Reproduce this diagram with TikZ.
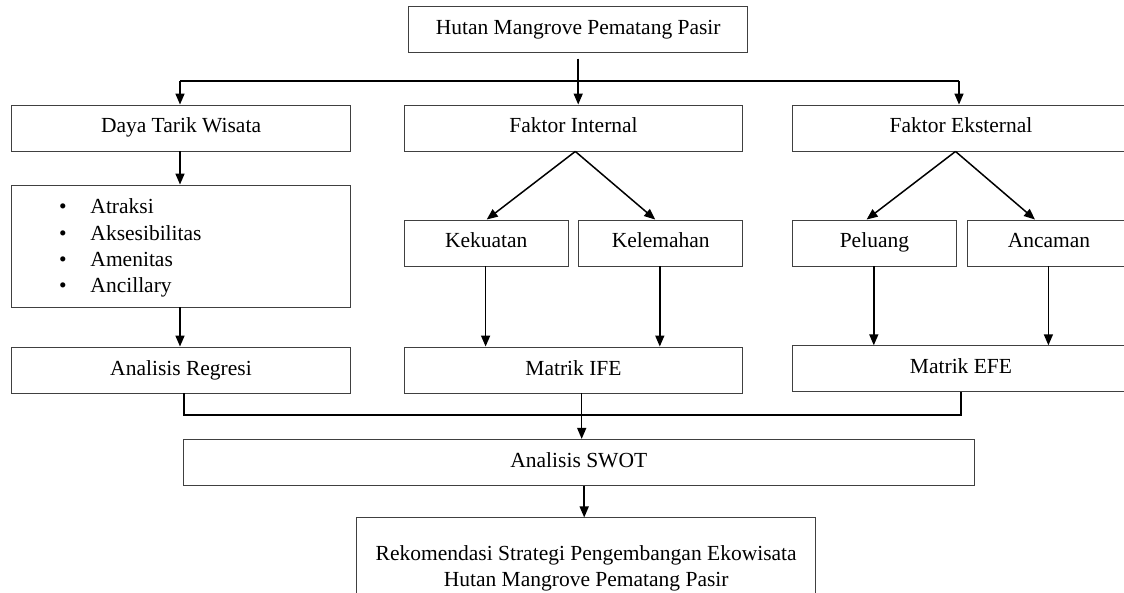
\documentclass[tikz,border=0pt]{standalone}
\usepackage{fontspec}
\setmainfont{Liberation Serif}
\usetikzlibrary{arrows.meta}
\newcommand\dfont{\fontsize{21.5}{26.3}\selectfont}
\tikzset{
  box/.style={draw=black!75, line width=0.9pt, minimum height=46pt, inner sep=0pt,
    text height=14.7pt, text depth=4.7pt, font=\dfont},
  rekbox/.style={draw=black!75, line width=0.9pt, inner sep=0pt, align=center, font=\dfont},
  itm/.style={inner sep=0pt, font=\dfont, anchor=base west},
  arr/.style={line width=1.5pt, -{Triangle[length=11pt,width=9pt]}},
  con/.style={line width=2pt},
}
\begin{document}
\begin{tikzpicture}[x=1pt,y=-1pt]
\useasboundingbox (0,0) rectangle (1124,593);
\clip (0,0) rectangle (1124,593);
% boxes
\node[box, minimum width=339.1pt] (top) at (578.2,29.7) {Hutan Mangrove Pematang Pasir};
\node[box, minimum width=338.4pt] (dtw) at (181,128) {Daya Tarik Wisata};
\node[box, minimum width=338.3pt] (fi) at (573.5,128) {Faktor Internal};
\node[box, minimum width=337pt] (fe) at (961,128) {Faktor Eksternal};
\node[box, minimum width=338.4pt, minimum height=122pt] (bul) at (181,246) {};
\node[itm] (b1) at (59,214) {\makebox[31.3pt][l]{•}Atraksi};
\node[itm] (b2) at (59,240.3) {\makebox[31.3pt][l]{•}Aksesibilitas};
\node[itm] (b3) at (59,266.6) {\makebox[31.3pt][l]{•}Amenitas};
\node[itm] (b4) at (59,292.9) {\makebox[31.3pt][l]{•}Ancillary};
\node[box, minimum width=338.4pt] (reg) at (181,370) {Analisis Regresi};
\node[box, minimum width=163.7pt] (kek) at (486.2,243) {Kekuatan};
\node[box, minimum width=163.8pt] (kel) at (660.7,243) {Kelemahan};
\node[box, minimum width=163.7pt] (pel) at (874.4,243) {Peluang};
\node[box, minimum width=163.4pt] (anc) at (1049,243) {Ancaman};
\node[box, minimum width=338.3pt] (ife) at (573.5,370) {Matrik IFE};
\node[box, minimum width=337pt, minimum height=45.3pt] (efe) at (961,368.4) {Matrik EFE};
\node[box, minimum width=790.7pt, minimum height=45.7pt] (swot) at (578.8,462.2) {Analisis SWOT};
\node[rekbox, minimum width=459.2pt, minimum height=100.6pt] (rek) at (586.2,568.2)
  {Rekomendasi Strategi Pengembangan Ekowisata\\Hutan Mangrove Pematang Pasir};
% connectors
\coordinate (busT) at (578.2,81);
\coordinate (busB) at (0,415);
\draw[con] (busT -| dtw.north) ++(-1pt,0) coordinate (bl) -- ([xshift=-2pt]busT -| fe.north) coordinate (br);
\draw[arr] ([yshift=-5.6pt]top.south) -- (top.south |- fi.north);
\draw[arr] (bl) -- (bl |- dtw.north);
\draw[arr] (br) -- (br |- fe.north);
\draw[arr] ([xshift=-1pt]dtw.south) -- ([xshift=-1pt]bul.north);
\draw[arr] ([xshift=-1pt]bul.south) -- ([xshift=-1pt]reg.north);
\draw[arr] ([xshift=1.8pt]fi.south) -- ([xshift=0.5pt]kek.north);
\draw[arr] ([xshift=1.8pt]fi.south) -- ([xshift=-5.5pt]kel.north);
\draw[arr] ([xshift=-5.5pt]fe.south) -- ([xshift=-7.8pt]pel.north);
\draw[arr] ([xshift=-5.5pt]fe.south) -- ([xshift=-14pt]anc.north);
\draw[arr] ([xshift=-0.6pt]kek.south) -- ([xshift=-0.6pt]kek.south |- ife.north);
\draw[arr] ([xshift=-0.9pt]kel.south) -- ([xshift=-0.9pt]kel.south |- ife.north);
\draw[arr] ([xshift=-0.6pt]pel.south) -- ([xshift=-0.6pt]pel.south |- efe.north);
\draw[arr] ([xshift=-0.6pt]anc.south) -- ([xshift=-0.6pt]anc.south |- efe.north);
\draw[con] ([xshift=2.5pt]reg.south) |- (busB -| efe.south) -- (efe.south);
\draw[arr] ([xshift=8.2pt]ife.south) -- ([xshift=8.2pt]ife.south |- swot.north);
\draw[arr] ([xshift=5.4pt]swot.south) -- ([xshift=5.4pt]swot.south |- rek.north);
\end{tikzpicture}
\end{document}
